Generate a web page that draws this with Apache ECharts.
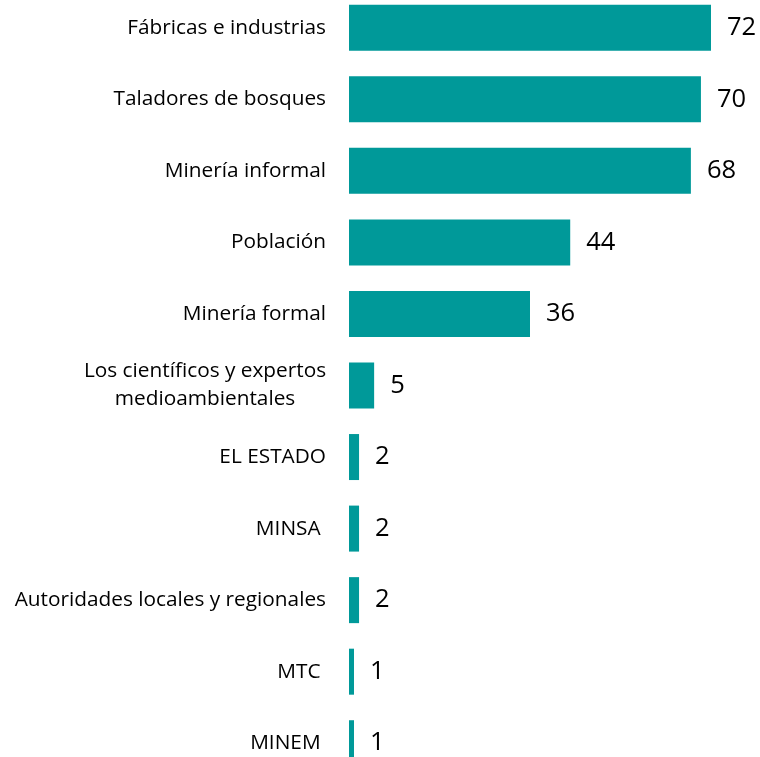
<!DOCTYPE html>
<html>
<head>
<meta charset="utf-8">
<script src="https://cdn.jsdelivr.net/npm/echarts@6/dist/echarts.min.js"></script>
<style>html,body{margin:0;padding:0;background:#fff;overflow:hidden;width:760px;height:757px;}#c{position:absolute;left:0;top:-7.75px;width:760px;height:786.5px;}</style>
</head>
<body>
<div id="c"></div>
<script>
var categories = ['Fábricas e industrias', 'Taladores de bosques', 'Minería informal', 'Población', 'Minería formal', 'Los científicos y expertos\nmedioambientales', 'EL ESTADO', 'MINSA ', 'Autoridades locales y regionales', 'MTC ', 'MINEM '];
var values = [72, 70, 68, 44, 36, 5, 2, 2, 2, 1, 1];

var chart = echarts.init(document.getElementById('c'), null, {renderer: 'canvas'});
chart.setOption({
  animation: false,
  backgroundColor: '#ffffff',
  grid: {left: 349, right: 49, top: 0, bottom: 0, containLabel: false},
  xAxis: {type: 'value', min: 0, max: 72, show: false},
  yAxis: {
    type: 'category', data: categories, inverse: true,
    axisLine: {show: false}, axisTick: {show: false}, splitLine: {show: false},
    axisLabel: {
      margin: 23, color: '#000000', fontFamily: 'Open Sans', fontSize: 20.8, lineHeight: 28,
      formatter: function (v) {
        if (v.indexOf('\n') >= 0) {
          return v.split('\n').map(function (s) { return '{c|' + s + '}'; }).join('\n');
        }
        return v;
      },
      rich: {c: {width: 242, align: 'center', fontFamily: 'Open Sans', fontSize: 20.8, lineHeight: 28, color: '#000000'}}
    }
  },
  series: [{
    type: 'bar', data: values, barWidth: 46,
    itemStyle: {color: '#009999'},
    label: {show: true, position: 'right', distance: 16, color: '#000000', fontFamily: 'Open Sans', fontSize: 25.5}
  }]
});
</script>
</body>
</html>
